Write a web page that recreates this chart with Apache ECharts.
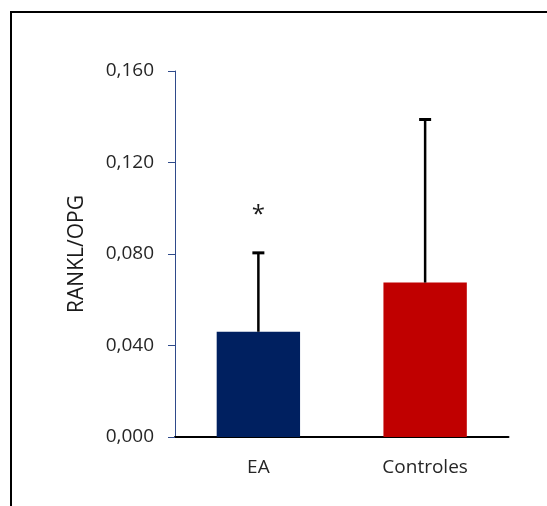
<!DOCTYPE html>
<html>
<head>
<meta charset="utf-8">
<script src="https://cdn.jsdelivr.net/npm/echarts@6/dist/echarts.min.js"></script>
<style>
html,body{margin:0;padding:0;background:#fff;}
#frame{position:absolute;left:10px;top:11px;width:537px;height:495px;border-left:2px solid #000;border-top:2px solid #000;box-sizing:border-box;}
#chart{position:absolute;left:0;top:0;width:547px;height:506px;}
</style>
</head>
<body>
<div id="frame"></div>
<div id="chart"></div>
<script>
const categories = ['EA', 'Controles'];
const means = [0.046, 0.0675];
const sdUpper = [0.0345, 0.0713];
const barColors = ['#002060', '#C00000'];
const yTicks = [0, 0.04, 0.08, 0.12, 0.16];
const marks = ['*', ''];

const font = 'Open Sans';
const chart = echarts.init(document.getElementById('chart'));
chart.setOption({
  animation: false,
  grid: {left: 175, right: 38.5, top: 71, bottom: 69, containLabel: false},
  xAxis: {
    type: 'category',
    data: categories,
    axisLine: {lineStyle: {color: '#000', width: 2}},
    axisTick: {show: false},
    axisLabel: {color: '#262626', fontFamily: font, fontSize: 19, margin: 21}
  },
  yAxis: {
    type: 'value',
    min: 0, max: 0.16, interval: 0.04,
    name: 'RANKL/OPG',
    nameLocation: 'middle',
    nameGap: 87,
    nameTextStyle: {color: '#1a1a1a', fontFamily: font, fontSize: 21},
    axisLine: {show: true, lineStyle: {color: '#2F4A8A', width: 1}},
    axisTick: {show: true, length: 7, lineStyle: {color: '#2F4A8A'}},
    splitLine: {show: false},
    axisLabel: {
      color: '#262626', fontFamily: font, fontSize: 19, margin: 21,
      formatter: v => v.toFixed(3).replace('.', ',')
    }
  },
  series: [
    {
      type: 'bar',
      data: means.map((v, i) => ({value: v, itemStyle: {color: barColors[i]}})),
      barWidth: '50%'
    },
    {
      type: 'custom',
      data: means.map((v, i) => [i, v, v + sdUpper[i]]),
      renderItem: function (params, api) {
        const i = api.value(0);
        const p0 = api.coord([i, api.value(1)]);
        const p1 = api.coord([i, api.value(2)]);
        const children = [
          {type: 'line', shape: {x1: p0[0], y1: p0[1], x2: p1[0], y2: p1[1]}, style: {stroke: '#000', lineWidth: 2.5}},
          {type: 'line', shape: {x1: p1[0] - 6, y1: p1[1], x2: p1[0] + 6, y2: p1[1]}, style: {stroke: '#000', lineWidth: 3}}
        ];
        if (marks[i]) {
          children.push({type: 'text', style: {text: marks[i], x: p1[0], y: p1[1] - 38, align: 'center', verticalAlign: 'middle', fontSize: 24, fontFamily: font, fill: '#1a1a1a'}});
        }
        return {type: 'group', children: children};
      },
      z: 5
    }
  ]
});
</script>
</body>
</html>
